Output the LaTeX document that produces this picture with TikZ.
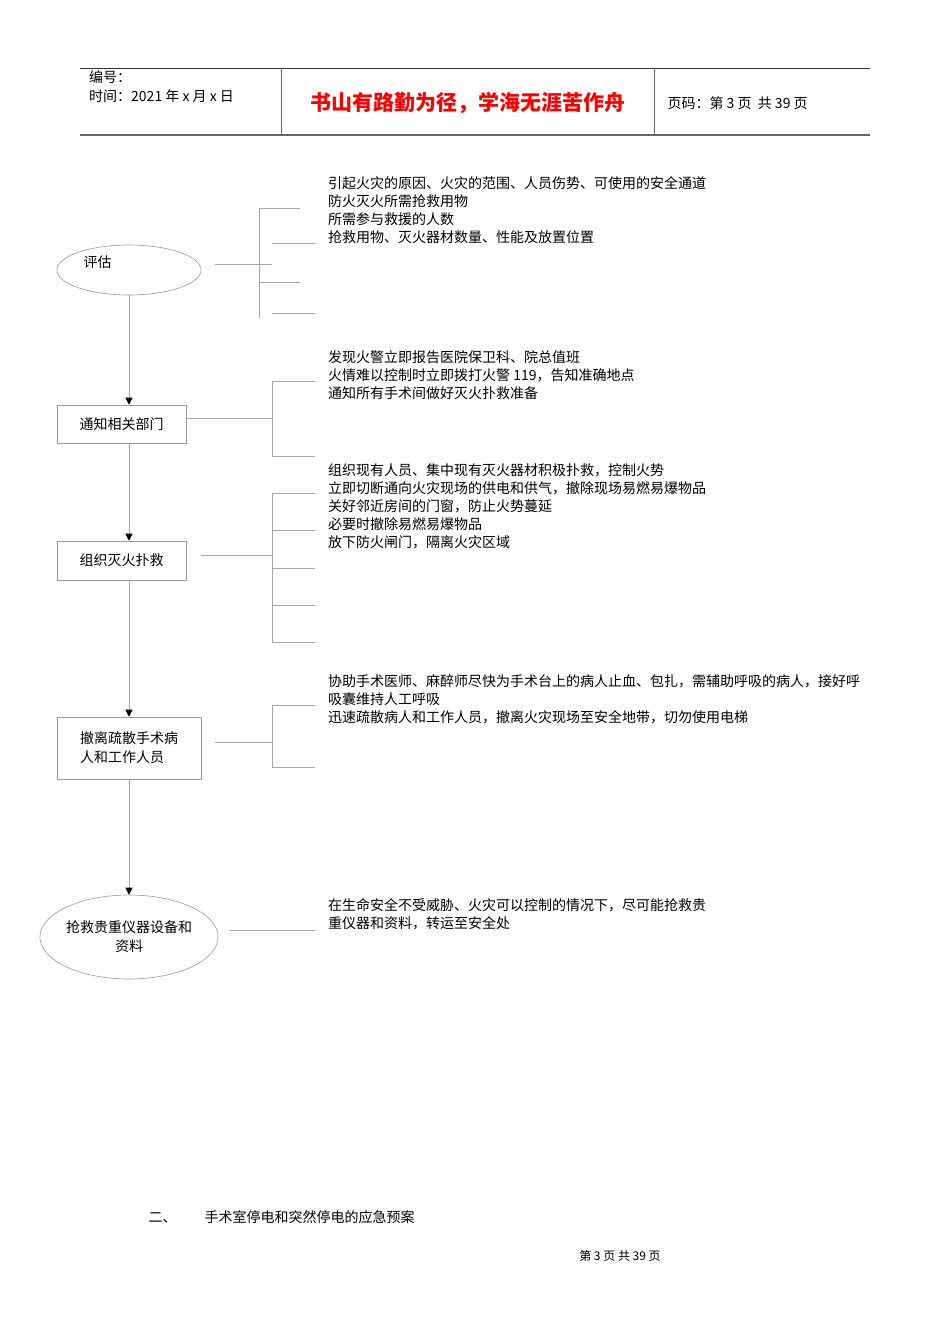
\documentclass[tikz,border=0pt]{standalone}
\usepackage{fontspec}
\setmainfont{Noto Sans CJK SC}
\usetikzlibrary{arrows.meta,shapes.geometric}
\begin{document}
\begin{tikzpicture}[x=1pt,y=-1pt,
  ln/.style={draw=black!35,line width=0.6pt},
  ar/.style={ln,-{Triangle[black,length=7pt,width=7pt]}},
  bx/.style={draw=black!40,line width=0.6pt,inner sep=0pt,font=\fontsize{14}{19}\selectfont},
  tx/.style={anchor=north west,inner sep=0pt,align=left,font=\fontsize{14}{18}\selectfont}]
\useasboundingbox (0,0) rectangle (950,1344);
% header
\draw[black!80,line width=0.8pt] (80,68) -- (870,68);
\draw[black!60,line width=1.3pt] (80,135) -- (870,135);
\draw[black!60,line width=0.7pt] (281,68) -- (281,135) (654,68) -- (654,135);
\node[tx,font=\fontsize{14}{19}\selectfont] (h1) at (89,70) {编号：\\时间：2021 年 x 月 x 日};
\node[font=\bfseries\fontsize{21}{24}\selectfont,text=red] (h2) at (468,103) {书山有路勤为径，学海无涯苦作舟};
\node[anchor=west,font=\fontsize{14}{16}\selectfont] (h3) at (664,103) {页码：第 3 页\ \ 共 39 页};
% nodes
\node[bx,ellipse,minimum width=144,minimum height=50] (e1) at (129,270) {};
\node[anchor=west,font=\fontsize{14}{16}\selectfont] (e1t) at (80,262) {评估};
\node[bx,minimum width=129,minimum height=38] (b1) at (121.5,424) {通知相关部门};
\node[bx,minimum width=129,minimum height=39] (b2) at (121.5,560.5) {组织灭火扑救};
\node[bx,minimum width=144,minimum height=62,align=left] (b3) at (129,748) {撤离疏散手术病\\人和工作人员};
\node[bx,ellipse,minimum width=172,minimum height=84,align=center,inner sep=0pt] (e2) at (129,937) {抢救贵重仪器设备和\\资料};
\draw[ar] (e1.south) -- (b1.north -| e1.south);
\draw[ar] (b1.south -| e1.south) -- (b2.north -| e1.south);
\draw[ar] (b2.south -| e1.south) -- (b3.north);
\draw[ar] (b3.south) -- (e2.north);
% brackets
\draw[ln] (259,208) -- (259,318) (259,208) -- (300,208) (272,243) -- (315,243) (215,264) -- (272,264) (259,282) -- (300,282) (272,313) -- (315,313);
\draw[ln] (272,381) -- (272,456) (272,381) -- (315,381) (186,418) -- (272,418) (272,456) -- (315,456);
\draw[ln] (272,493) -- (272,642) (201,555) -- (272,555);
\foreach \y in {493,530,568,605,642} \draw[ln] (272,\y) -- (315,\y);
\draw[ln] (272,705) -- (272,767) (272,705) -- (315,705) (272,767) -- (315,767) (215,742) -- (272,742);
\draw[ln] (230,930) -- (315,930);
% texts
\node[tx] (t1) at (328,176) {引起火灾的原因、火灾的范围、人员伤势、可使用的安全通道\\防火灭火所需抢救用物\\所需参与救援的人数\\抢救用物、灭火器材数量、性能及放置位置};
\node[tx] (t2) at (328,350) {发现火警立即报告医院保卫科、院总值班\\火情难以控制时立即拨打火警 119，告知准确地点\\通知所有手术间做好灭火扑救准备};
\node[tx] (t3) at (328,463) {组织现有人员、集中现有灭火器材积极扑救，控制火势\\立即切断通向火灾现场的供电和供气，撤除现场易燃易爆物品\\关好邻近房间的门窗，防止火势蔓延\\必要时撤除易燃易爆物品\\放下防火闸门，隔离火灾区域};
\node[tx] (t4) at (328,674) {协助手术医师、麻醉师尽快为手术台上的病人止血、包扎，需辅助呼吸的病人，接好呼\\吸囊维持人工呼吸\\迅速疏散病人和工作人员，撤离火灾现场至安全地带，切勿使用电梯};
\node[tx] (t5) at (328,898) {在生命安全不受威胁、火灾可以控制的情况下，尽可能抢救贵\\重仪器和资料，转运至安全处};
\node[anchor=west,font=\fontsize{14}{16}\selectfont] (f1) at (145,1217) {二、\quad\quad 手术室停电和突然停电的应急预案};
\node[font=\fontsize{12}{14}\selectfont] (f2) at (620,1256) {第 3 页 共 39 页};
\end{tikzpicture}
\end{document}
